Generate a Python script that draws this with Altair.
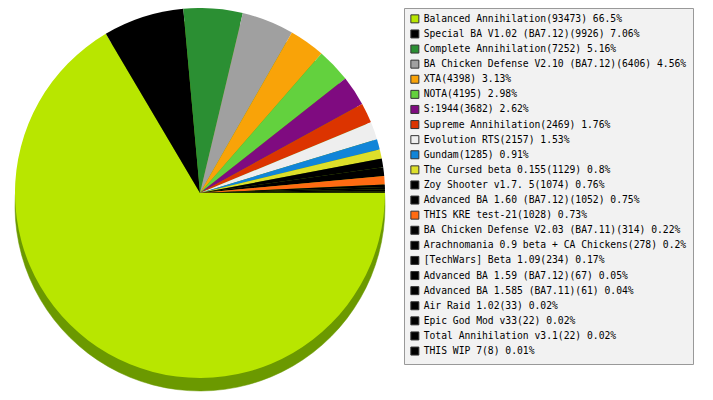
import math
import altair as alt
import pandas as pd

names = [
    "Balanced Annihilation(93473) 66.5%",
    "Special BA V1.02 (BA7.12)(9926) 7.06%",
    "Complete Annihilation(7252) 5.16%",
    "BA Chicken Defense V2.10 (BA7.12)(6406) 4.56%",
    "XTA(4398) 3.13%",
    "NOTA(4195) 2.98%",
    "S:1944(3682) 2.62%",
    "Supreme Annihilation(2469) 1.76%",
    "Evolution RTS(2157) 1.53%",
    "Gundam(1285) 0.91%",
    "The Cursed beta 0.155(1129) 0.8%",
    "Zoy Shooter v1.7. 5(1074) 0.76%",
    "Advanced BA 1.60 (BA7.12)(1052) 0.75%",
    "THIS KRE test-21(1028) 0.73%",
    "BA Chicken Defense V2.03 (BA7.11)(314) 0.22%",
    "Arachnomania 0.9 beta + CA Chickens(278) 0.2%",
    "[TechWars] Beta 1.09(234) 0.17%",
    "Advanced BA 1.59 (BA7.12)(67) 0.05%",
    "Advanced BA 1.585 (BA7.11)(61) 0.04%",
    "Air Raid 1.02(33) 0.02%",
    "Epic God Mod v33(22) 0.02%",
    "Total Annihilation v3.1(22) 0.02%",
    "THIS WIP 7(8) 0.01%",
]
counts = [93473, 9926, 7252, 6406, 4398, 4195, 3682, 2469, 2157, 1285, 1129,
          1074, 1052, 1028, 314, 278, 234, 67, 61, 33, 22, 22, 8]
colors = ["#b8e600", "#000000", "#2b8f33", "#a0a0a0", "#f9a308", "#63d13e",
          "#7f0b80", "#dc3400", "#eeeeee", "#1185d8", "#dddf2a", "#000000",
          "#000000", "#ff6b12", "#000000", "#000000", "#000000", "#000000",
          "#000000", "#000000", "#000000", "#000000", "#000000"]

df = pd.DataFrame({"name": names, "count": counts, "idx": list(range(len(names)))})

theta_scale = alt.Scale(range=[math.pi / 2, math.pi / 2 + 2 * math.pi])
color_scale = alt.Scale(domain=names, range=colors)

CX, CY, R, DEPTH = 192, 185, 185, 13

shadow = alt.Chart(df).mark_arc(radius=R, color="#6b9900", stroke="#6b9900",
                                strokeWidth=0.5).encode(
    theta=alt.Theta("count:Q", stack=True, scale=theta_scale),
    order=alt.Order("idx:Q"),
    x=alt.value(CX),
    y=alt.value(CY + DEPTH),
)

top = alt.Chart(df).mark_arc(radius=R).encode(
    theta=alt.Theta("count:Q", stack=True, scale=theta_scale),
    order=alt.Order("idx:Q"),
    color=alt.Color(
        "name:N",
        scale=color_scale,
        title=None,
        legend=alt.Legend(
            orient="none",
            legendX=396,
            legendY=0,
            symbolType="square",
            symbolSize=64,
            symbolStrokeColor="#333333",
            symbolStrokeWidth=1,
            symbolOpacity=1,
            labelFont="DejaVu Sans Mono",
            labelFontSize=9.7,
            labelColor="#000000",
            labelLimit=400,
            labelOffset=4,
            rowPadding=2.1,
            padding=6,
            fillColor="#f2f2f2",
            strokeColor="#999999",
        ),
    ),
    x=alt.value(CX),
    y=alt.value(CY),
)

chart = alt.layer(shadow, top).properties(
    width=697,
    height=384,
    padding=0,
    autosize=alt.AutoSizeParams(type="none"),
).configure_view(stroke=None)

chart.save("out.html", embed_options={"renderer": "svg", "actions": False})
